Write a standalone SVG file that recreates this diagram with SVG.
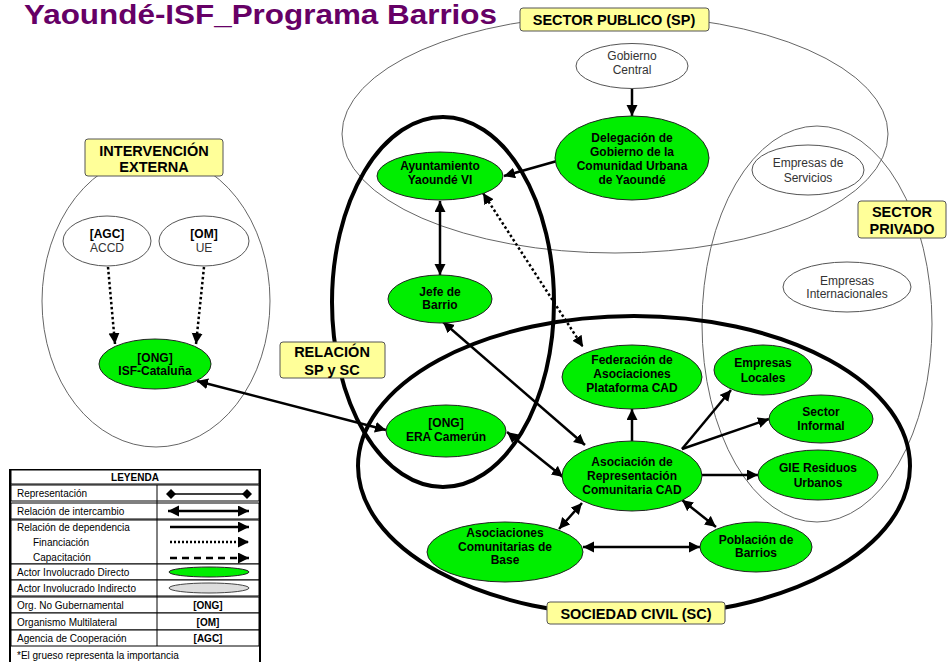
<svg xmlns="http://www.w3.org/2000/svg" width="947" height="662" viewBox="0 0 947 662">
<style>
text{font-family:"Liberation Sans",Arial,sans-serif}
.n{font-size:12px;font-weight:bold;text-anchor:middle;fill:#000}
.g{font-size:12px;text-anchor:middle;fill:#333}
.d{fill:#00ee00;stroke:#222;stroke-width:1}
.w{fill:#fff;stroke:#555;stroke-width:1}
.reg{fill:none;stroke:#666;stroke-width:1}
.regb{fill:none;stroke:#000;stroke-width:4}
.lab{fill:#ffff99;stroke:#555;stroke-width:1}
.lt{font-size:14.5px;font-weight:bold;text-anchor:middle}
.c{fill:none;stroke:#000;stroke-width:2.5}
.dot{stroke-dasharray:2.5,2.5}
.ae{marker-end:url(#ah)}
.ab{marker-start:url(#ah);marker-end:url(#ah)}
.lg{font-size:10px;fill:#000}
.cell{fill:#fff;stroke:#000;stroke-width:1}
</style>
<defs>
<marker id="ah" markerUnits="userSpaceOnUse" markerWidth="12" markerHeight="12" refX="11" refY="5.5" orient="auto-start-reverse">
<path d="M0,0 L11,5.5 L0,11 z" fill="#000"/>
</marker>
<marker id="dm" markerUnits="userSpaceOnUse" markerWidth="10" markerHeight="10" refX="5" refY="5" orient="auto">
<path d="M0,5 L5,0 L10,5 L5,10 z" fill="#000"/>
</marker>
</defs>
<rect width="947" height="662" fill="#fff"/>
<text x="24" y="24" font-size="28" font-weight="bold" fill="#660066" textLength="473" lengthAdjust="spacingAndGlyphs">Yaoundé-ISF_Programa Barrios</text>

<g id="regions">
<ellipse class="reg" cx="615" cy="134" rx="273" ry="119"/>
<ellipse class="reg" cx="817" cy="324" rx="115" ry="198"/>
<ellipse class="reg" cx="156" cy="301" rx="114" ry="146"/>
<ellipse class="regb" cx="634" cy="466" rx="276" ry="150"/>
<ellipse class="regb" cx="443" cy="302" rx="111" ry="185"/>
</g>

<g id="connectors">
<line class="c ae" x1="632" y1="89" x2="632" y2="116"/>
<line class="c ae" x1="557" y1="161" x2="504" y2="176"/>
<line class="c ab" x1="440" y1="201" x2="440" y2="275"/>
<line class="c dot ab" x1="483" y1="193" x2="583" y2="347"/>
<line class="c dot ae" x1="108" y1="267" x2="115" y2="344"/>
<line class="c dot ae" x1="204" y1="267" x2="196" y2="344"/>
<line class="c ab" x1="197" y1="381" x2="386" y2="430"/>
<line class="c ab" x1="443" y1="322" x2="585" y2="445"/>
<line class="c ab" x1="507" y1="432" x2="563" y2="477"/>
<line class="c ae" x1="632" y1="441" x2="632" y2="409"/>
<line class="c ab" x1="582" y1="503" x2="559" y2="529"/>
<line class="c ab" x1="583" y1="547" x2="700" y2="547"/>
<line class="c ab" x1="682" y1="500" x2="716" y2="527"/>
<line class="c ae" x1="682" y1="449" x2="731" y2="390"/>
<line class="c ae" x1="682" y1="449" x2="769" y2="419"/>
<line class="c ae" x1="702" y1="475" x2="758" y2="475"/>
</g>

<g id="gobierno-central"><ellipse class="w" cx="632" cy="66" rx="56" ry="22.5"/><text class="g" x="632" y="60">Gobierno</text><text class="g" x="632" y="74">Central</text></g>
<g id="delegacion"><ellipse class="d" cx="632" cy="158" rx="77" ry="42"/><text class="n" x="632" y="142">Delegación de</text><text class="n" x="632" y="156">Gobierno de la</text><text class="n" x="632" y="170">Comunidad Urbana</text><text class="n" x="632" y="184">de Yaoundé</text></g>
<g id="ayuntamiento"><ellipse class="d" cx="440" cy="176" rx="63" ry="24"/><text class="n" x="440" y="170">Ayuntamiento</text><text class="n" x="440" y="184">Yaoundé VI</text></g>
<g id="jefe-barrio"><ellipse class="d" cx="440" cy="299" rx="52" ry="24"/><text class="n" x="440" y="296">Jefe de</text><text class="n" x="440" y="309">Barrio</text></g>
<g id="federacion"><ellipse class="d" cx="632" cy="377" rx="70" ry="32"/><text class="n" x="632" y="364">Federación de</text><text class="n" x="632" y="378">Asociaciones</text><text class="n" x="632" y="392">Plataforma CAD</text></g>
<g id="era-camerun"><ellipse class="d" cx="446" cy="431" rx="60" ry="26" stroke-width="4" stroke="#000"/><text class="n" x="446" y="427">[ONG]</text><text class="n" x="446" y="441">ERA Camerún</text></g>
<g id="asociacion-cad"><ellipse class="d" cx="632" cy="476" rx="70" ry="35"/><text class="n" x="632" y="466">Asociación de</text><text class="n" x="632" y="480">Representación</text><text class="n" x="632" y="494">Comunitaria CAD</text></g>
<g id="asociaciones-base"><ellipse class="d" cx="505" cy="552" rx="78" ry="30"/><text class="n" x="505" y="537">Asociaciones</text><text class="n" x="505" y="551">Comunitarias de</text><text class="n" x="505" y="564">Base</text></g>
<g id="poblacion-barrios"><ellipse class="d" cx="756" cy="547" rx="56" ry="25"/><text class="n" x="756" y="544">Población de</text><text class="n" x="756" y="557">Barrios</text></g>
<g id="empresas-locales"><ellipse class="d" cx="763" cy="370" rx="49" ry="25"/><text class="n" x="763" y="367">Empresas</text><text class="n" x="763" y="382">Locales</text></g>
<g id="sector-informal"><ellipse class="d" cx="821" cy="419" rx="52" ry="24"/><text class="n" x="821" y="416">Sector</text><text class="n" x="821" y="430">Informal</text></g>
<g id="gie-residuos"><ellipse class="d" cx="818" cy="475" rx="60" ry="25"/><text class="n" x="818" y="472">GIE Residuos</text><text class="n" x="818" y="487">Urbanos</text></g>
<g id="empresas-servicios"><ellipse class="w" cx="808" cy="170" rx="56" ry="25"/><text class="g" x="808" y="167">Empresas de</text><text class="g" x="808" y="182">Servicios</text></g>
<g id="empresas-internacionales"><ellipse class="w" cx="847" cy="287" rx="64" ry="25"/><text class="g" x="847" y="285">Empresas</text><text class="g" x="847" y="298">Internacionales</text></g>
<g id="accd"><ellipse class="w" cx="107" cy="241" rx="44" ry="25"/><text class="n" x="107" y="238">[AGC]</text><text class="g" x="107" y="252">ACCD</text></g>
<g id="ue"><ellipse class="w" cx="204" cy="241" rx="45" ry="25"/><text class="n" x="204" y="238">[OM]</text><text class="g" x="204" y="252">UE</text></g>
<g id="isf-cataluna"><ellipse class="d" cx="155" cy="364" rx="56" ry="25"/><text class="n" x="155" y="362">[ONG]</text><text class="n" x="155" y="375">ISF-Cataluña</text></g>

<g id="label-sp"><rect class="lab" x="520" y="8" width="189" height="23" rx="3"/><text class="lt" x="614" y="25">SECTOR PUBLICO (SP)</text></g>
<g id="label-ie"><rect class="lab" x="85" y="139" width="138" height="37" rx="3"/><text class="lt" x="154" y="156" font-size="14">INTERVENCIÓN</text><text class="lt" x="154" y="172" font-size="14">EXTERNA</text></g>
<g id="label-rel"><rect class="lab" x="280" y="342" width="105" height="36" rx="3"/><text class="lt" x="332" y="357">RELACIÓN</text><text class="lt" x="332" y="375">SP y SC</text></g>
<g id="label-priv"><rect class="lab" x="858" y="201" width="88" height="37" rx="3"/><text class="lt" x="902" y="217">SECTOR</text><text class="lt" x="902" y="234">PRIVADO</text></g>
<g id="label-sc"><rect class="lab" x="547" y="602" width="178" height="22" rx="3"/><text class="lt" x="636" y="619">SOCIEDAD CIVIL (SC)</text></g>

<g id="legend">
<rect x="10" y="470" width="250" height="200" fill="#fff" stroke="#000" stroke-width="2"/>
<rect class="cell" x="11" y="470" width="248" height="14"/>
<text class="lg" x="135" y="481" text-anchor="middle" font-weight="bold">LEYENDA</text>
<rect class="cell" x="11" y="485" width="248" height="16"/>
<rect class="cell" x="11" y="503" width="248" height="16"/>
<rect class="cell" x="11" y="520" width="248" height="44"/>
<rect class="cell" x="11" y="564" width="248" height="16"/>
<rect class="cell" x="11" y="580" width="248" height="16"/>
<rect class="cell" x="11" y="597" width="248" height="16"/>
<rect class="cell" x="11" y="613" width="248" height="17"/>
<rect class="cell" x="11" y="630" width="248" height="16"/>
<line x1="157" y1="485" x2="157" y2="646" stroke="#000" stroke-width="1"/>
<text class="lg" x="17" y="497">Representación</text>
<text class="lg" x="17" y="515">Relación de intercambio</text>
<text class="lg" x="17" y="531">Relación de dependencia</text>
<text class="lg" x="33" y="546">Financiación</text>
<text class="lg" x="33" y="561">Capacitación</text>
<text class="lg" x="17" y="576">Actor Involucrado Directo</text>
<text class="lg" x="17" y="592">Actor Involucrado Indirecto</text>
<text class="lg" x="17" y="609">Org. No Gubernamental</text>
<text class="lg" x="17" y="626">Organismo Multilateral</text>
<text class="lg" x="17" y="642">Agencia de Cooperación</text>
<text class="lg" x="17" y="659">*El grueso representa la importancia</text>
<line x1="171" y1="494" x2="247" y2="494" stroke="#000" stroke-width="1.5" marker-start="url(#dm)" marker-end="url(#dm)"/>
<line class="c ab" x1="168" y1="511" x2="249" y2="511" stroke-width="2"/>
<line class="c ae" x1="170" y1="527" x2="249" y2="527" stroke-width="2"/>
<line class="c ae dot" x1="170" y1="542" x2="249" y2="542" stroke-width="2" style="stroke-dasharray:2,2"/>
<line class="c ae" x1="170" y1="558" x2="249" y2="558" stroke-width="2" style="stroke-dasharray:7,5"/>
<ellipse cx="209" cy="572" rx="40" ry="5" class="d"/>
<ellipse cx="209" cy="588" rx="40" ry="5" fill="#ddd" stroke="#444" stroke-width="1"/>
<text class="lg" x="208" y="609" text-anchor="middle" font-weight="bold">[ONG]</text>
<text class="lg" x="208" y="626" text-anchor="middle" font-weight="bold">[OM]</text>
<text class="lg" x="208" y="642" text-anchor="middle" font-weight="bold">[AGC]</text>
</g>
</svg>
